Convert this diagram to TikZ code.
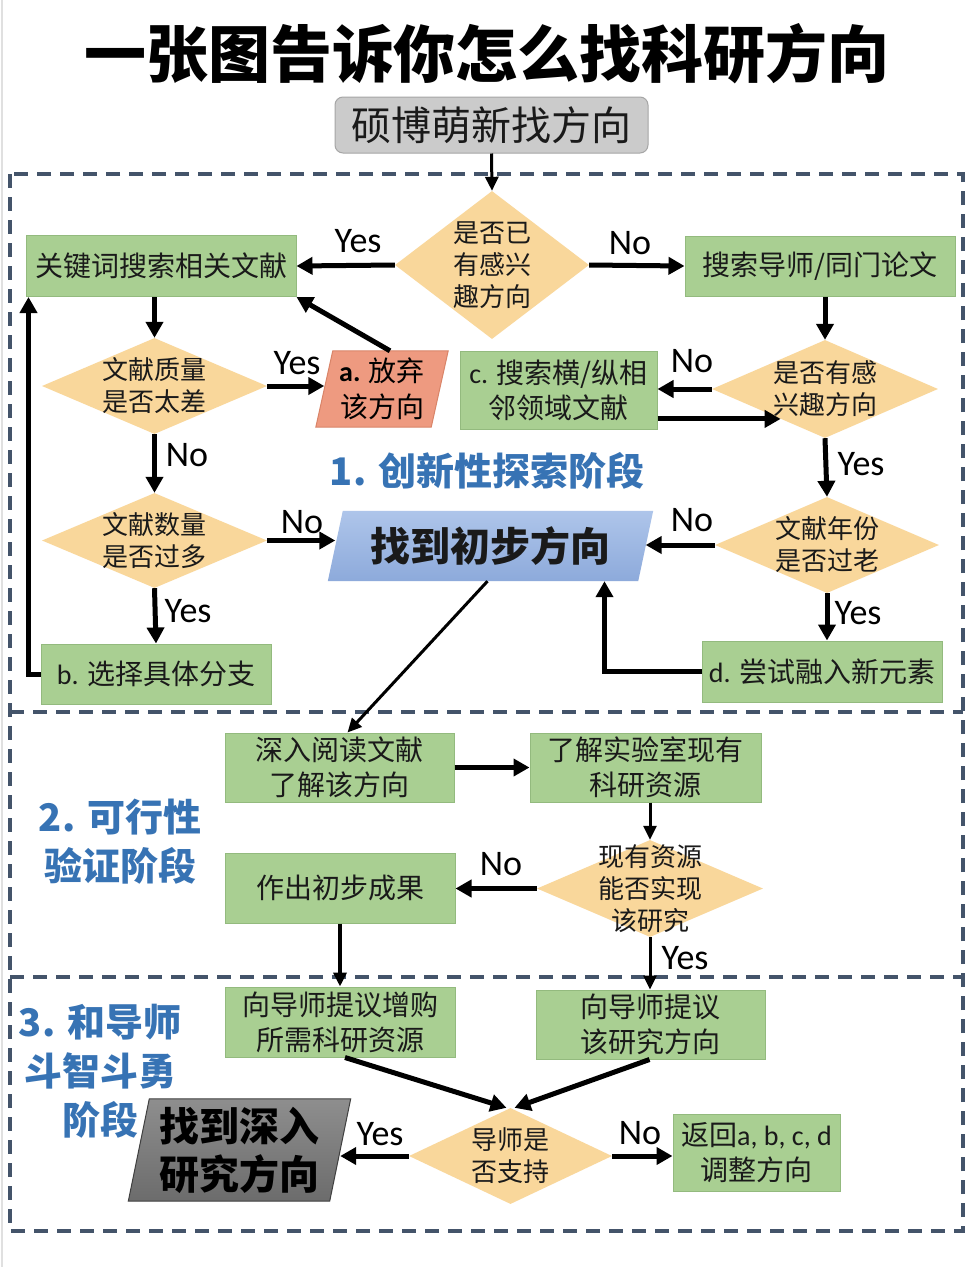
\documentclass[tikz,border=0pt]{standalone}
\usepackage{fontspec}
\setmainfont{Noto Sans CJK SC}
\newfontfamily\latf{Carlito}
\usetikzlibrary{shapes.geometric,arrows.meta,calc,backgrounds}
\definecolor{gfill}{HTML}{A9CF92}
\definecolor{gborder}{HTML}{93BA7E}
\definecolor{dfill}{HTML}{F9D79B}
\definecolor{afill}{HTML}{EE9A80}
\definecolor{aborder}{HTML}{D98468}
\definecolor{ftop}{HTML}{AEC5EA}
\definecolor{fbot}{HTML}{8DAADB}
\definecolor{gtop}{HTML}{8E8E8E}
\definecolor{gbot}{HTML}{6C6C6C}
\definecolor{dashc}{HTML}{44546A}
\definecolor{stgc}{RGB}{55,115,180}
\definecolor{txt}{HTML}{1A1A1A}
\definecolor{stfill}{HTML}{CBCBCB}
\definecolor{stborder}{HTML}{A6A6A6}
\tikzset{
  gbox/.style={draw=gborder, line width=1pt, fill=gfill, inner sep=2pt, align=center,
    text=txt, font=\fontsize{28}{35}\selectfont},
  dia/.style={diamond, fill=dfill, draw=none, inner sep=0pt},
  dtxt/.style={align=center, text=txt, inner sep=0pt, font=\fontsize{26}{32}\selectfont},
  para/.style={draw=none, inner sep=0pt, align=center},
  lbl/.style={inner sep=0pt, font=\latf\fontsize{36}{36}\selectfont},
  arr/.style={line width=5pt, -{Triangle[length=16pt,width=17pt]}},
  tarr/.style={line width=3pt, -{Triangle[length=14pt,width=13pt]}},
  stg/.style={text=stgc, align=center, inner sep=0pt, font=\bfseries\fontsize{38}{49}\selectfont},
  dashframe/.style={draw=dashc, line width=4pt, dash pattern=on 14pt off 9pt}
}
\begin{document}
\begin{tikzpicture}[x=1pt,y=-1pt]
\useasboundingbox (0,0) rectangle (973,1267);
% title and start
\node[inner sep=0pt, font=\bfseries\fontsize{62}{62}\selectfont] (title) at (487,54) {一张图告诉你怎么找科研方向};
\node[draw=stborder, line width=1pt, fill=stfill, rounded corners=8pt, minimum width=313, minimum height=56, inner sep=0pt,
  font=\fontsize{40}{40}\selectfont, text=txt] (st) at (491.5,125) {硕博萌新找方向};

% stage frames
\draw[dashframe] (10,174) rectangle (963,1231);
\draw[dashframe] (10,712) -- (963,712);
\draw[dashframe] (10,977) -- (963,977);

% stage 1 nodes
\node[dia, minimum width=194, minimum height=148] (d1) at (492,265) {};
\node[dtxt] (d1t) at (d1.center) {是否已\\有感兴\\趣方向};
\node[gbox, minimum width=270, minimum height=61] (k) at (161,266) {关键词搜索相关文献};
\node[gbox, minimum width=270, minimum height=60] (s) at (820,266) {搜索导师/同门论文};
\node[dia, minimum width=225, minimum height=96] (d2) at (154.5,386) {};
\node[dtxt] (d2t) at (d2.center) {文献质量\\是否太差};
\node[para, minimum width=115, minimum height=76, font=\fontsize{28}{36}\selectfont] (a) at (382,389) {{\latf\bfseries a.} 放弃\\该方向};
\node[gbox, minimum width=197, minimum height=78] (c) at (558.5,390) {{\latf c.} 搜索横/纵相\\邻领域文献};
\node[dia, minimum width=226, minimum height=98] (d3) at (825,389) {};
\node[dtxt] (d3t) at (d3.center) {是否有感\\兴趣方向};
\node[dia, minimum width=225, minimum height=95] (d4) at (154.5,540.5) {};
\node[dtxt] (d4t) at (d4.center) {文献数量\\是否过多};
\node[para, minimum width=310, minimum height=70, font=\bfseries\fontsize{40}{40}\selectfont, text=txt] (f) at (490.5,546) {找到初步方向};
\node[dia, minimum width=224, minimum height=96] (d5) at (827,545) {};
\node[dtxt] (d5t) at (d5.center) {文献年份\\是否过老};
\node[gbox, minimum width=230, minimum height=60] (b) at (156,674) {{\latf b.} 选择具体分支};
\node[gbox, minimum width=240, minimum height=61] (dd) at (822,671.5) {{\latf d.} 尝试融入新元素};
\node[stg] (s1) at (487,471) {1. 创新性探索阶段};

% stage 2 nodes
\node[gbox, minimum width=229, minimum height=69] (r) at (339.5,767.5) {深入阅读文献\\了解该方向};
\node[gbox, minimum width=231, minimum height=69] (l) at (645.5,767.5) {了解实验室现有\\科研资源};
\node[dia, minimum width=226, minimum height=97] (d6) at (650,888.5) {};
\node[dtxt] (d6t) at (d6.center) {现有资源\\能否实现\\该研究};
\node[gbox, minimum width=230, minimum height=70] (p) at (340,888) {作出初步成果};
\node[stg] (s2) at (120,842) {2. 可行性\\验证阶段};

% stage 3 nodes
\node[gbox, minimum width=230, minimum height=70] (t1) at (340,1022) {向导师提议增购\\所需科研资源};
\node[gbox, minimum width=229, minimum height=69] (t2) at (650.5,1024.5) {向导师提议\\该研究方向};
\node[dia, minimum width=203, minimum height=96] (d7) at (510.5,1156) {};
\node[dtxt] (d7t) at (d7.center) {导师是\\否支持};
\node[para, minimum width=201, minimum height=102, font=\bfseries\fontsize{40}{48}\selectfont, text=black] (g) at (239.5,1150) {找到深入\\研究方向};
\node[gbox, minimum width=167, minimum height=77] (e) at (756.5,1152.5) {返回{\latf a, b, c, d}\\调整方向};
\node[stg] (s3) at (100,1071) {3. 和导师\\斗智斗勇\\阶段};

% parallelogram backgrounds
\begin{scope}[on background layer]
\fill[white] (0,0) rectangle (973,1267);
\draw[black!12, line width=1.5pt] (2,0) -- (2,1267);
\filldraw[fill=afill, draw=aborder, line width=1pt]
  ($(a.north west)+(8.5,0)$) -- ($(a.north east)+(8.5,0)$) -- ($(a.south east)+(-8.5,0)$) -- ($(a.south west)+(-8.5,0)$) -- cycle;
\shade[top color=ftop, bottom color=fbot]
  ($(f.north west)+(7.5,0)$) -- ($(f.north east)+(7.5,0)$) -- ($(f.south east)+(-7.5,0)$) -- ($(f.south west)+(-7.5,0)$) -- cycle;
\shade[top color=gtop, bottom color=gbot]
  ($(g.north west)+(10.5,0)$) -- ($(g.north east)+(10.5,0)$) -- ($(g.south east)+(-10.5,0)$) -- ($(g.south west)+(-10.5,0)$) -- cycle;
\draw[black!75, line width=1pt]
  ($(g.north west)+(10.5,0)$) -- ($(g.north east)+(10.5,0)$) -- ($(g.south east)+(-10.5,0)$) -- ($(g.south west)+(-10.5,0)$) -- cycle;
\end{scope}

% connectors stage 1
\draw[tarr] (st.south) -- (d1.north);
\draw[arr] (d1.west) -- (k.east);
\node[lbl] (ly1) at (358,241) {Yes};
\draw[arr] (d1.east) -- (s.west);
\node[lbl] (ln1) at (630,243) {No};
\draw[arr] ($(a.north)+(8,0)$) -- (k.south east);
\draw[arr] (d2.north |- k.south) -- (d2.north);
\draw[arr] (d2.east) -- (a.west |- d2.east);
\node[lbl] (ly2) at (297,363) {Yes};
\draw[arr] (d2.south) -- (d4.north);
\node[lbl] (ln2) at (187,455) {No};
\draw[arr] (d4.east) -- (f.west |- d4.east);
\node[lbl] (ln4) at (302,522) {No};
\draw[arr] (d4.south) -- (b.north);
\node[lbl] (ly4) at (188,611) {Yes};
\draw[arr] (b.west) -| ($(k.south west)+(3,0)$);
\draw[arr] (d3.north |- s.south) -- (d3.north);
\draw[arr] (d3.west) -- (c.east |- d3.west);
\node[lbl] (ln3) at (692,361) {No};
\draw[arr] (c.east |- d3.214) -- (d3.214);
\draw[arr] (d3.south) -- (d5.north);
\node[lbl] (ly3) at (861,464) {Yes};
\draw[arr] (d5.west) -- (f.east |- d5.west);
\node[lbl] (ln5) at (692,520) {No};
\draw[arr] (d5.south) -- (d5.south |- dd.north);
\node[lbl] (ly5) at (858,613) {Yes};
\draw[arr] (dd.west) -| ($(f.south)+(114,0)$);
\draw[tarr] ($(f.south)+(-3,0)$) -- ($(r.north)+(8,0)$);

% connectors stage 2
\draw[arr] (r.east) -- (l.west);
\draw[tarr] (d6.north |- l.south) -- (d6.north);
\draw[arr] (d6.west) -- (p.east |- d6.west);
\node[lbl] (ln6) at (501,864) {No};
\draw[tarr, line width=4pt] (p.south) -- (t1.north);
\draw[tarr] (d6.south) -- (d6.south |- t2.north);
\node[lbl] (ly6) at (685,958) {Yes};

% connectors stage 3
\draw[arr] ($(t1.south)+(5,0)$) -- ($(d7.north)+(-4,0)$);
\draw[arr] ($(t2.south)+(-1,0)$) -- ($(d7.north)+(4,0)$);
\draw[arr] (d7.west) -- (g.east |- d7.west);
\node[lbl] (ly7) at (380,1134) {Yes};
\draw[arr] (d7.east) -- (e.west |- d7.east);
\node[lbl] (ln7) at (640,1133) {No};
\end{tikzpicture}
\end{document}
